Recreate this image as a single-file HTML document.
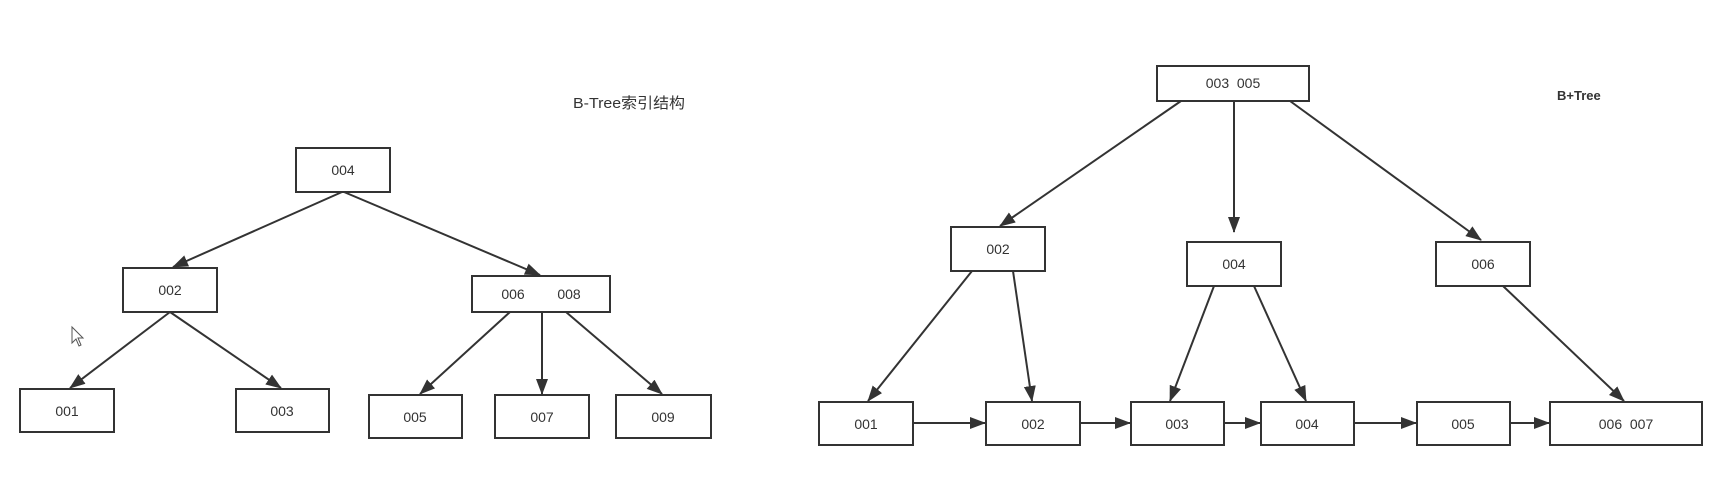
<!DOCTYPE html>
<html><head><meta charset="utf-8"><style>
html,body{margin:0;padding:0;background:#fff;}
svg{display:block;}
text{font-family:"Liberation Sans","Noto Sans CJK SC",sans-serif;font-size:14px;fill:#333;}
</style></head><body>
<svg width="1723" height="491" viewBox="0 0 1723 491" xmlns="http://www.w3.org/2000/svg">
<defs><marker id="a" markerWidth="16" markerHeight="12" refX="15" refY="6" orient="auto" markerUnits="userSpaceOnUse"><path d="M0,0 L16,6 L0,12 z" fill="#333"/></marker></defs>
<g fill="#fff" stroke="#333" stroke-width="2">
<rect x="296" y="148" width="94" height="44"/>
<rect x="123" y="268" width="94" height="44"/>
<rect x="472" y="276" width="138" height="36"/>
<rect x="20" y="389" width="94" height="43"/>
<rect x="236" y="389" width="93" height="43"/>
<rect x="369" y="395" width="93" height="43"/>
<rect x="495" y="395" width="94" height="43"/>
<rect x="616" y="395" width="95" height="43"/>
<rect x="1157" y="66" width="152" height="35"/>
<rect x="951" y="227" width="94" height="44"/>
<rect x="1187" y="242" width="94" height="44"/>
<rect x="1436" y="242" width="94" height="44"/>
<rect x="819" y="402" width="94" height="43"/>
<rect x="986" y="402" width="94" height="43"/>
<rect x="1131" y="402" width="93" height="43"/>
<rect x="1261" y="402" width="93" height="43"/>
<rect x="1417" y="402" width="93" height="43"/>
<rect x="1550" y="402" width="152" height="43"/>
</g>
<g stroke="#333" stroke-width="2" marker-end="url(#a)">
<line x1="342" y1="192" x2="173" y2="267"/>
<line x1="344" y1="192" x2="540" y2="275"/>
<line x1="170" y1="312" x2="70" y2="388"/>
<line x1="170" y1="312" x2="281" y2="388"/>
<line x1="510" y1="312" x2="420" y2="394"/>
<line x1="542" y1="312" x2="542" y2="394"/>
<line x1="566" y1="312" x2="662" y2="394"/>
<line x1="1181" y1="101" x2="1000" y2="226"/>
<line x1="1234" y1="101" x2="1234" y2="232"/>
<line x1="1290" y1="101" x2="1481" y2="240"/>
<line x1="972" y1="271" x2="868" y2="401"/>
<line x1="1013" y1="271" x2="1032" y2="401"/>
<line x1="1214" y1="286" x2="1170" y2="401"/>
<line x1="1254" y1="286" x2="1306" y2="401"/>
<line x1="1503" y1="286" x2="1624" y2="401"/>
<line x1="913" y1="423" x2="985" y2="423"/>
<line x1="1080" y1="423" x2="1130" y2="423"/>
<line x1="1224" y1="423" x2="1260" y2="423"/>
<line x1="1354" y1="423" x2="1416" y2="423"/>
<line x1="1510" y1="423" x2="1549" y2="423"/>
</g>
<g text-anchor="middle">
<text x="343" y="175">004</text>
<text x="170" y="295">002</text>
<text x="513" y="299">006</text>
<text x="569" y="299">008</text>
<text x="67" y="416">001</text>
<text x="282" y="416">003</text>
<text x="415" y="422">005</text>
<text x="542" y="422">007</text>
<text x="663" y="422">009</text>
<text x="1233" y="88">003&#160;&#160;005</text>
<text x="998" y="254">002</text>
<text x="1234" y="269">004</text>
<text x="1483" y="269">006</text>
<text x="866" y="429">001</text>
<text x="1033" y="429">002</text>
<text x="1177" y="429">003</text>
<text x="1307" y="429">004</text>
<text x="1463" y="429">005</text>
<text x="1626" y="429">006&#160;&#160;007</text>
</g>
<text x="573" y="108" textLength="112" lengthAdjust="spacingAndGlyphs" style="font-size:15px">B-Tree索引结构</text>
<text x="1557" y="100" style="font-weight:bold;font-size:13px">B+Tree</text>
<path d="M72,327 L72,343 L76,339 L79,346 L81,345 L78,338 L83,338 Z" fill="#fff" stroke="#555" stroke-width="1"/>
</svg>
</body></html>
